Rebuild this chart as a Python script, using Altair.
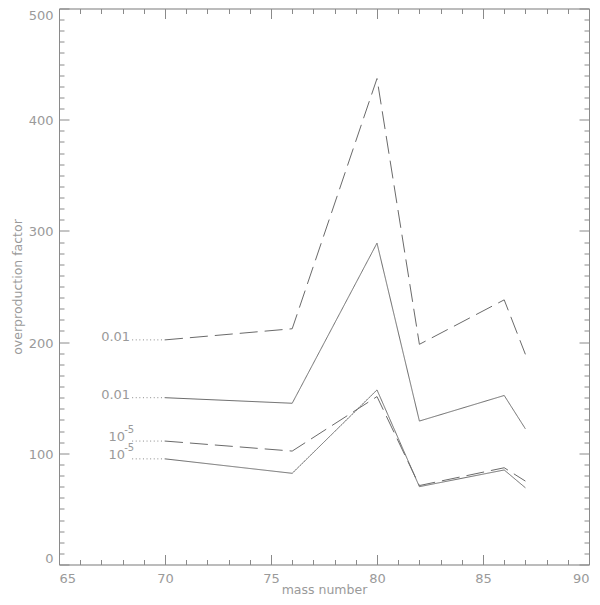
import altair as alt
import pandas as pd

# ---- data ----
mass = [70, 76, 80, 82, 86, 87]
dash_001 = [202, 212, 437, 198, 238, 189]
solid_001 = [150, 145, 289, 129, 152, 122]
dash_1e5 = [111, 102, 151, 71, 87, 75]
solid_1e5 = [95, 82, 157, 70, 85, 69]

series_vals = [dash_001, solid_001, dash_1e5, solid_1e5]
series_dashed = [True, False, True, False]
series_label = ["0.01", "0.01", "10", "10"]
series_sup = ["", "", "-5", "-5"]
leader_start = 68.45

x_ticks = list(range(65, 91))
y_ticks = list(range(0, 501, 10))

AX = "#8a8a8a"
TXT = "#9a9a9a"
LINE = "#6a6a6a"
FONT = "DejaVu Sans"

xs = alt.Scale(domain=[65, 90], nice=False, zero=False)
ys = alt.Scale(domain=[0, 500], nice=False, zero=False)

common = dict(grid=False, domain=True, domainColor=AX, domainWidth=1,
              tickColor=AX, tickWidth=1, labelColor=TXT, labelFont=FONT,
              labelFontSize=13, labelOverlap=False, labelBound=False,
              titleColor=TXT, titleFont=FONT, titleFontSize=12.5,
              titleFontWeight="normal")

x_bottom = alt.Axis(orient="bottom", values=x_ticks, title="mass number",
                    tickSize=alt.expr("datum.value % 5 === 0 ? -10 : -5"),
                    labelExpr="datum.value % 5 === 0 ? datum.label : ''",
                    labelPadding=18, labelBaseline="top",
                    titleBaseline="alphabetic", titleY=28.5,
                    **common)
y_left = alt.Axis(orient="left", values=y_ticks, title="overproduction factor",
                  tickSize=alt.expr("datum.value % 100 === 0 ? -10 : -5"),
                  labelExpr="datum.value % 100 === 0 ? datum.label : ''",
                  labelPadding=16, labelFlush=True, labelOffset=1,
                  titlePadding=4, **common)
x_top = alt.Axis(orient="top", values=x_ticks, title=None, labels=False,
                 tickSize=alt.expr("datum.value % 5 === 0 ? -10 : -5"),
                 **common)
y_right = alt.Axis(orient="right", values=y_ticks, title=None, labels=False,
                   tickSize=alt.expr("datum.value % 100 === 0 ? -10 : -5"),
                   **common)

layers = []
for i, vals in enumerate(series_vals):
    df = pd.DataFrame({"mass": mass, "val": vals})
    first = i == 0
    mk = alt.Chart(df).mark_line(
        color=LINE, strokeWidth=1,
        strokeDash=[18, 7] if series_dashed[i] else [1, 0])
    layers.append(mk.encode(
        x=alt.X("mass:Q", scale=xs, axis=x_bottom if first else None),
        y=alt.Y("val:Q", scale=ys, axis=y_left if first else None)))

lead = pd.DataFrame({
    "x0": [leader_start] * 4,
    "x1": [mass[0]] * 4,
    "y": [v[0] for v in series_vals],
    "lab": series_label,
    "sup": series_sup,
})

leaders = alt.Chart(lead).mark_rule(color=AX, strokeWidth=1, strokeDash=[1, 2.6]).encode(
    x=alt.X("x0:Q", scale=xs, axis=x_top),
    x2="x1:Q",
    y=alt.Y("y:Q", scale=ys, axis=y_right),
)
layers.append(leaders)

lab_001 = alt.Chart(lead[lead["sup"] == ""]).mark_text(
    align="right", baseline="alphabetic", dx=-2, dy=1,
    font=FONT, fontSize=13, color=TXT).encode(
    x=alt.X("x0:Q", scale=xs, axis=None),
    y=alt.Y("y:Q", scale=ys, axis=None),
    text="lab:N")
lab_10 = alt.Chart(lead[lead["sup"] != ""]).mark_text(
    align="right", baseline="alphabetic", dx=-7, dy=0,
    font=FONT, fontSize=13, color=TXT).encode(
    x=alt.X("x0:Q", scale=xs, axis=None),
    y=alt.Y("y:Q", scale=ys, axis=None),
    text="lab:N")
lab_sup = alt.Chart(lead[lead["sup"] != ""]).mark_text(
    align="left", baseline="alphabetic", dx=-8, dy=-8,
    font=FONT, fontSize=10, color=TXT).encode(
    x=alt.X("x0:Q", scale=xs, axis=None),
    y=alt.Y("y:Q", scale=ys, axis=None),
    text="sup:N")
layers += [lab_001, lab_10, lab_sup]

chart = alt.layer(*layers).resolve_axis(x="independent", y="independent").properties(
    width=530, height=556,
    autosize=alt.AutoSizeParams(type="none"),
    padding={"left": 51, "top": 0.5, "right": 3, "bottom": 32},
).configure_view(stroke=None).configure(background="white")

chart.save("out.html", embed_options={"renderer": "svg", "actions": False})
